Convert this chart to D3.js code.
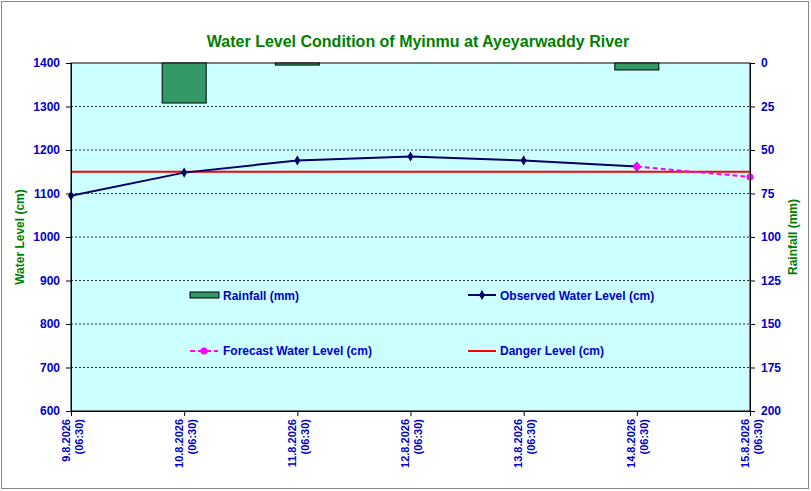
<!DOCTYPE html>
<html><head><meta charset="utf-8">
<script src="https://cdn.jsdelivr.net/npm/d3@7"></script>
<style>body{margin:0;background:#fff}text{font-family:Arial,"Liberation Sans",sans-serif;font-weight:bold}</style>
</head><body><svg id="c" width="811" height="491"></svg>
<script>
const dates = ['9.8.2026', '10.8.2026', '11.8.2026', '12.8.2026', '13.8.2026', '14.8.2026', '15.8.2026'];
const observed = [1095, 1148, 1176, 1185, 1176, 1162, null];
const forecast = [null, null, null, null, null, 1162, 1138];
const rainfall = [0, 23, 1.2, 0, 0, 4, 0];
const danger = 1150;
const levelTicks = [600, 700, 800, 900, 1000, 1100, 1200, 1300, 1400];
const rainTicks = [0, 25, 50, 75, 100, 125, 150, 175, 200];

const svg = d3.select('#c');
const L = 71, R = 750, T = 63, B = 411;
const blue = '#0000cc', green = '#008000';

svg.append('rect').attr('x', 1.5).attr('y', 1.5).attr('width', 807).attr('height', 487)
    .attr('fill', '#fff').attr('stroke', '#888');
svg.append('rect').attr('x', L).attr('y', T).attr('width', R - L).attr('height', B - T)
    .attr('fill', '#ccffff').attr('stroke', '#000');

const x = d3.scalePoint().domain(dates).range([L, R]);
const y = d3.scaleLinear().domain([600, 1400]).range([B, T]);
const yr = d3.scaleLinear().domain([0, 200]).range([T, B]);

// gridlines
svg.selectAll('.grid').data(levelTicks.slice(1, -1)).enter().append('line')
    .attr('x1', L).attr('x2', R).attr('y1', d => y(d)).attr('y2', d => y(d))
    .attr('stroke', '#000').attr('stroke-dasharray', '2,2').attr('stroke-width', 0.8);

// rainfall bars
svg.selectAll('.bar').data(rainfall.map((v, i) => [dates[i], v]).filter(d => d[1] > 0)).enter().append('rect')
    .attr('x', d => x(d[0]) - 22).attr('y', T).attr('width', 44).attr('height', d => yr(d[1]) - T)
    .attr('fill', '#339966').attr('stroke', '#000');

// danger
svg.append('line').attr('x1', L).attr('x2', R).attr('y1', y(danger)).attr('y2', y(danger))
    .attr('stroke', '#ff0000').attr('stroke-width', 2);

const line = d3.line().defined(d => d[1] != null).x(d => x(d[0])).y(d => y(d[1]));
const obs = observed.map((v, i) => [dates[i], v]);
const fc = forecast.map((v, i) => [dates[i], v]);
svg.append('path').datum(obs).attr('d', line).attr('fill', 'none').attr('stroke', '#000066').attr('stroke-width', 2);
svg.selectAll('.op').data(obs.filter(d => d[1] != null)).enter().append('path')
    .attr('d', d3.symbol(d3.symbolDiamond, 30))
    .attr('transform', d => `translate(${x(d[0])},${y(d[1])})`).attr('fill', '#000066');
svg.append('path').datum(fc).attr('d', line).attr('fill', 'none').attr('stroke', '#ff00ff')
    .attr('stroke-width', 2).attr('stroke-dasharray', '5,3');
svg.selectAll('.fp').data(fc.filter(d => d[1] != null)).enter().append('circle')
    .attr('cx', d => x(d[0])).attr('cy', d => y(d[1])).attr('r', 3.5).attr('fill', '#ff00ff');

// axes
const ax = svg.append('g').attr('transform', `translate(${L},0)`).call(d3.axisLeft(y).tickValues(levelTicks).tickFormat(d3.format('d')).tickSize(5).tickPadding(6));
const ar = svg.append('g').attr('transform', `translate(${R},0)`).call(d3.axisRight(yr).tickValues(rainTicks).tickSize(5).tickPadding(6));
const ab = svg.append('g').attr('transform', `translate(0,${B})`).call(d3.axisBottom(x).tickSize(5).tickFormat(''));
[ax, ar, ab].forEach(g => {
    g.select('.domain').attr('stroke', '#000');
    g.selectAll('text').attr('fill', blue).style('font-size', '12px').style('font-weight', 'bold');
});
ab.selectAll('.tick').each(function(d) {
    const t = d3.select(this).append('text').attr('transform', 'rotate(-90)')
        .attr('text-anchor', 'end').attr('fill', blue).style('font-size', '11px');
    t.append('tspan').attr('x', -8).attr('y', -2).text(d);
    t.append('tspan').attr('x', -8).attr('y', 11).text('(06:30)');
});

svg.append('text').attr('x', 418).attr('y', 47).attr('text-anchor', 'middle')
    .attr('fill', green).style('font-size', '16px').text('Water Level Condition of Myinmu at Ayeyarwaddy River');
svg.append('text').attr('transform', 'translate(24,237) rotate(-90)').attr('text-anchor', 'middle')
    .attr('fill', green).style('font-size', '12px').text('Water Level (cm)');
svg.append('text').attr('transform', 'translate(797,237) rotate(-90)').attr('text-anchor', 'middle')
    .attr('fill', green).style('font-size', '12px').text('Rainfall (mm)');

// legend
const lg = svg.append('g').style('font-size', '12px');
lg.append('rect').attr('x', 190).attr('y', 292).attr('width', 29).attr('height', 6).attr('fill', '#339966').attr('stroke', '#000');
lg.append('text').attr('x', 223).attr('y', 300).attr('fill', blue).text('Rainfall (mm)');
lg.append('line').attr('x1', 468).attr('x2', 496).attr('y1', 295).attr('y2', 295).attr('stroke', '#000066').attr('stroke-width', 2);
lg.append('path').attr('d', d3.symbol(d3.symbolDiamond, 30)).attr('transform', 'translate(482,295)').attr('fill', '#000066');
lg.append('text').attr('x', 500).attr('y', 300).attr('fill', blue).text('Observed Water Level (cm)');
lg.append('line').attr('x1', 190).attr('x2', 218).attr('y1', 351).attr('y2', 351).attr('stroke', '#ff00ff').attr('stroke-width', 2).attr('stroke-dasharray', '5,3');
lg.append('circle').attr('cx', 204).attr('cy', 351).attr('r', 3.5).attr('fill', '#ff00ff');
lg.append('text').attr('x', 223).attr('y', 355).attr('fill', blue).text('Forecast Water Level (cm)');
lg.append('line').attr('x1', 468).attr('x2', 496).attr('y1', 351).attr('y2', 351).attr('stroke', '#ff0000').attr('stroke-width', 2);
lg.append('text').attr('x', 500).attr('y', 355).attr('fill', blue).text('Danger Level (cm)');
</script></body></html>
